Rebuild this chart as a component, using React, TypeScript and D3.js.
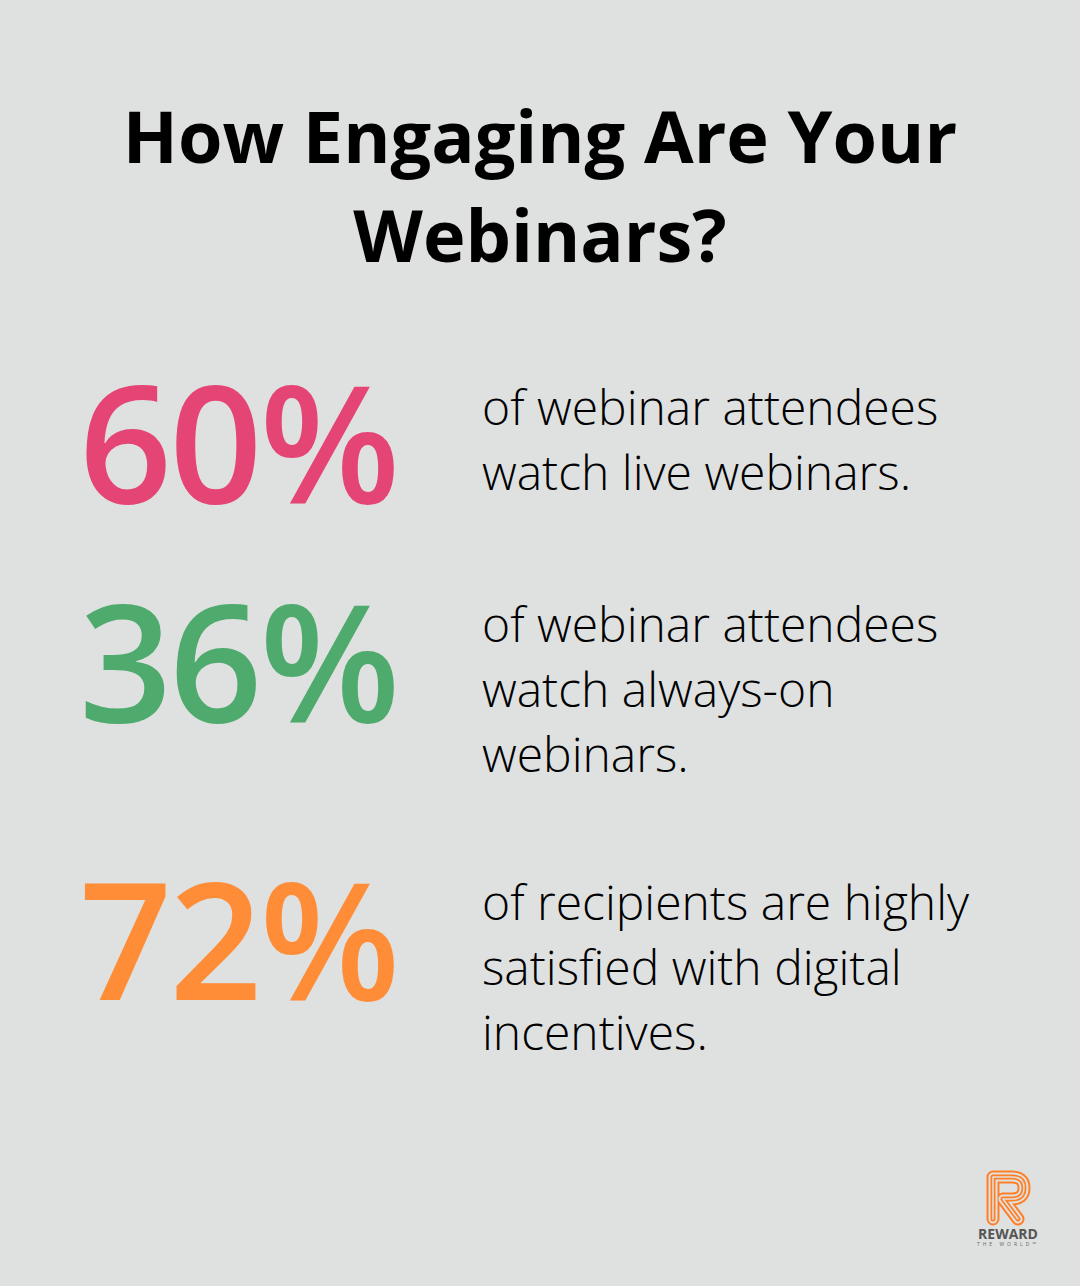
import React from "react";
import * as d3 from "d3";

const titleLines = ["How Engaging Are Your", "Webinars?"];
const statValues = [60, 36, 72];
const statLines = [
  ["of webinar attendees", "watch live webinars."],
  ["of webinar attendees", "watch always-on", "webinars."],
  ["of recipients are highly", "satisfied with digital", "incentives."],
];
const statColors = ["#e54575", "#4eaa6d", "#ff8c36"];
const statBaselines = [503, 722, 1000];
const textFirstBaselines = [425, 642, 920];

const W = 1080;
const H = 1286;
const BG = "#dfe1e0";

export default function App() {
  const fmt = (v: number) => d3.format("d")(v) + "%";
  const lineY = d3.scaleLinear().domain([0, 1]).range([0, 65]);
  const rPath = "M993,1219 L993,1177 L1012,1177 Q1024,1177 1024,1188 Q1024,1199 1012,1199 L1003,1199 L1018,1219";
  return (
    <svg width={W} height={H} style={{ display: "block", position: "absolute", left: 0, top: 0 }}>
      <rect x={0} y={0} width={W} height={H} fill={BG} />
      {titleLines.map((t, i) => (
        <text key={i} x={540} y={163 + i * 99} textAnchor="middle" fontFamily="'Open Sans'" fontWeight={700} fontSize={72} fill="#000">
          {t}
        </text>
      ))}
      {statValues.map((v, i) => (
        <g key={i}>
          <text x={79} y={statBaselines[i]} fontFamily="'Open Sans'" fontWeight={600} fontSize={163} fill={statColors[i]} letterSpacing={-3}>
            {fmt(v)}
          </text>
          {statLines[i].map((l, j) => (
            <text key={j} x={482} y={textFirstBaselines[i] + lineY(j)} fontFamily="'Open Sans'" fontWeight={300} fontSize={48} fill="#000">
              {l}
            </text>
          ))}
        </g>
      ))}
      <g>
        <path d={rPath} fill="none" stroke="#ff7f27" strokeWidth={13} strokeLinejoin="round" strokeLinecap="round" />
        <path d={rPath} fill="none" stroke={BG} strokeWidth={9} strokeLinejoin="round" strokeLinecap="round" />
        <path d={rPath} fill="none" stroke="#ff7f27" strokeWidth={5} strokeLinejoin="round" strokeLinecap="round" />
        <path d={rPath} fill="none" stroke={BG} strokeWidth={1.5} strokeLinejoin="round" strokeLinecap="round" />
        <text x={1008} y={1239} textAnchor="middle" fontFamily="'Open Sans'" fontWeight={700} fontSize={14} fill="#555">REWARD</text>
        <text x={1008} y={1246} textAnchor="middle" fontFamily="'Open Sans'" fontWeight={400} fontSize={5} letterSpacing={3} fill="#666">THE WORLD™</text>
      </g>
    </svg>
  );
}
